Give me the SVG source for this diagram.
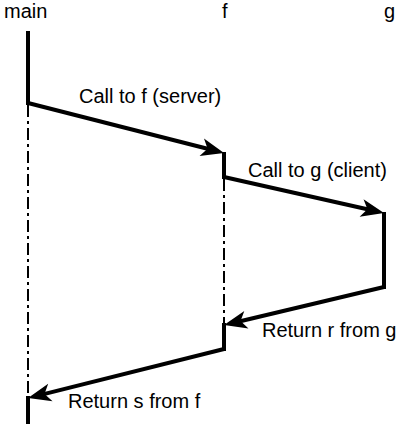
<svg xmlns="http://www.w3.org/2000/svg" width="399" height="424" viewBox="0 0 399 424">
<defs>
<style>
text{font-family:"Liberation Sans",Arial,sans-serif;font-size:20px;fill:#000}
.life{stroke:#000;stroke-width:2;stroke-dasharray:12,4,3,4;fill:none}
.act{stroke:#000;stroke-width:4;fill:none;stroke-linecap:butt}
.msg{stroke:#000;stroke-width:4;fill:none;stroke-linejoin:miter}
</style>
<marker id="ah" markerUnits="userSpaceOnUse" markerWidth="40" markerHeight="40" viewBox="-20 -20 40 40" refX="0" refY="0" orient="auto">
<path d="M8,0 L-15,-9 L-9,0 L-15,9 Z" fill="#000"/>
</marker>
</defs>
<rect width="399" height="424" fill="#fff"/>
<g id="main">
<text x="4" y="17.5">main</text>
<line class="life" x1="28" y1="105" x2="28" y2="396"/>
<line class="act" x1="28" y1="31" x2="28" y2="105"/>
<line class="act" x1="28" y1="396" x2="28" y2="424"/>
</g>
<g id="f">
<text x="222" y="18">f</text>
<line class="life" x1="224" y1="179" x2="224" y2="323"/>
<line class="act" x1="224" y1="152" x2="224" y2="179"/>
<line class="act" x1="224" y1="323" x2="224" y2="351"/>
</g>
<g id="g">
<text x="384" y="18">g</text>
<line class="act" x1="384" y1="212" x2="384" y2="289"/>
</g>
<g id="connectors">
<path class="msg" d="M28,103 L216.3,151" marker-end="url(#ah)"/>
<text x="79" y="103">Call to f (server)</text>
<path class="msg" d="M224,177 L376.2,211.2" marker-end="url(#ah)"/>
<text x="248" y="177">Call to g (client)</text>
<path class="msg" d="M384,287 L231.8,323.2" marker-end="url(#ah)"/>
<text x="262" y="337">Return r from g</text>
<path class="msg" d="M224,349 L35.8,396.1" marker-end="url(#ah)"/>
<text x="68" y="408">Return s from f</text>
</g>
</svg>
